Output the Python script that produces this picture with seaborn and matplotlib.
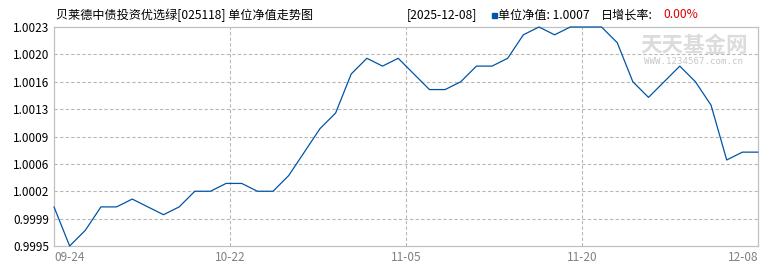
import numpy as np
import pandas as pd
import matplotlib
matplotlib.use("Agg")
import matplotlib.pyplot as plt
import seaborn as sns

# ---- data ----
nav_values = [
    1.0000, 0.9995, 0.9997, 1.0000, 1.0000, 1.0001, 1.0000, 0.9999, 1.0000, 1.0002,
    1.0002, 1.0003, 1.0003, 1.0002, 1.0002, 1.0004, 1.0007, 1.0010, 1.0012, 1.0017,
    1.0019, 1.0018, 1.0019, 1.0017, 1.0015, 1.0015, 1.0016, 1.0018, 1.0018, 1.0019,
    1.0022, 1.0023, 1.0022, 1.0023, 1.0023, 1.0023, 1.0021, 1.0016, 1.0014, 1.0016,
    1.0018, 1.0016, 1.0013, 1.0006, 1.0007, 1.0007,
]
xtick_labels = ["09-24", "10-22", "11-05", "11-20", "12-08"]
ytick_labels = ["0.9995", "0.9999", "1.0002", "1.0006", "1.0009",
                "1.0013", "1.0016", "1.0020", "1.0023"]
y_min, y_max = 0.9995, 1.0023
title_text = "贝莱德中债投资优选绿[025118] 单位净值走势图"
date_text = "[2025-12-08]"
nav_text = "单位净值: 1.0007"
growth_label = "日增长率:"
growth_value = "0.00%"

df = pd.DataFrame({"idx": np.arange(len(nav_values)), "nav": nav_values})

sns.set_style("white")
plt.rcParams["font.family"] = ["Noto Sans CJK SC", "DejaVu Sans"]

W, H = 770, 270
fig = plt.figure(figsize=(W / 100, H / 100), dpi=100)
ax = fig.add_axes([54 / W, 24 / H, 704 / W, 219 / H])

line_color = "#0055A5"
grid_color = "#B8B8B8"

sns.lineplot(data=df, x="idx", y="nav", ax=ax, color=line_color,
             linewidth=0.9, clip_on=False, zorder=3)

n = len(nav_values)
ax.set_xlim(0, n - 1)
ax.set_ylim(y_min, y_max)

xt = np.linspace(0, n - 1, len(xtick_labels))
yt = np.linspace(y_min, y_max, len(ytick_labels))
ax.set_xticks(xt)
ax.set_xticklabels(xtick_labels)
ax.set_yticks(yt)
ax.set_yticklabels(ytick_labels)
ax.set_xlabel("")
ax.set_ylabel("")

ax.tick_params(axis="both", length=0)
ax.tick_params(axis="y", pad=3.5, labelsize=8.5, labelcolor="#000000")
ax.tick_params(axis="x", pad=3.5, labelsize=8.5, labelcolor="#808080")
xl = ax.get_xticklabels()
xl[0].set_ha("left")
xl[-1].set_ha("right")

for v in yt[1:-1]:
    ax.axhline(v, color=grid_color, linestyle=(0, (3, 2)), linewidth=0.8, zorder=1)
for v in xt[1:-1]:
    ax.axvline(v, color=grid_color, linestyle=(0, (3, 2)), linewidth=0.8, zorder=1)

for s in ax.spines.values():
    s.set_color("#C0C0C0")
    s.set_linewidth(0.9)

# watermark
fig.text(694 / W, 1 - 45 / H, "天天基金网", fontsize=15.5, color="#DCDCDC",
         ha="center", va="center", fontweight="bold", zorder=0)
fig.text(694 / W, 1 - 62 / H, "WWW.1234567.com.cn", fontsize=6.6, color="#C8C8C8",
         ha="center", va="center", family=["DejaVu Sans Mono"], zorder=0)

# header
ty = 1 - 15 / H
hfs = 8.7
fig.text(56 / W, ty, title_text, fontsize=hfs, color="#000000", ha="left", va="center")
fig.text(407 / W, ty, date_text, fontsize=hfs, color="#000000", ha="left", va="center")
fig.patches.append(plt.Rectangle((492 / W, 1 - 18 / H), 5 / W, 5 / H,
                                 transform=fig.transFigure, color=line_color,
                                 figure=fig))
fig.text(498 / W, ty, nav_text, fontsize=hfs, color="#000000", ha="left", va="center")
fig.text(601 / W, ty, growth_label, fontsize=hfs, color="#000000", ha="left", va="center")
fig.text(663 / W, ty, growth_value, fontsize=hfs, color="#E00000", ha="left", va="center")

fig.savefig("out.png", dpi=100)
